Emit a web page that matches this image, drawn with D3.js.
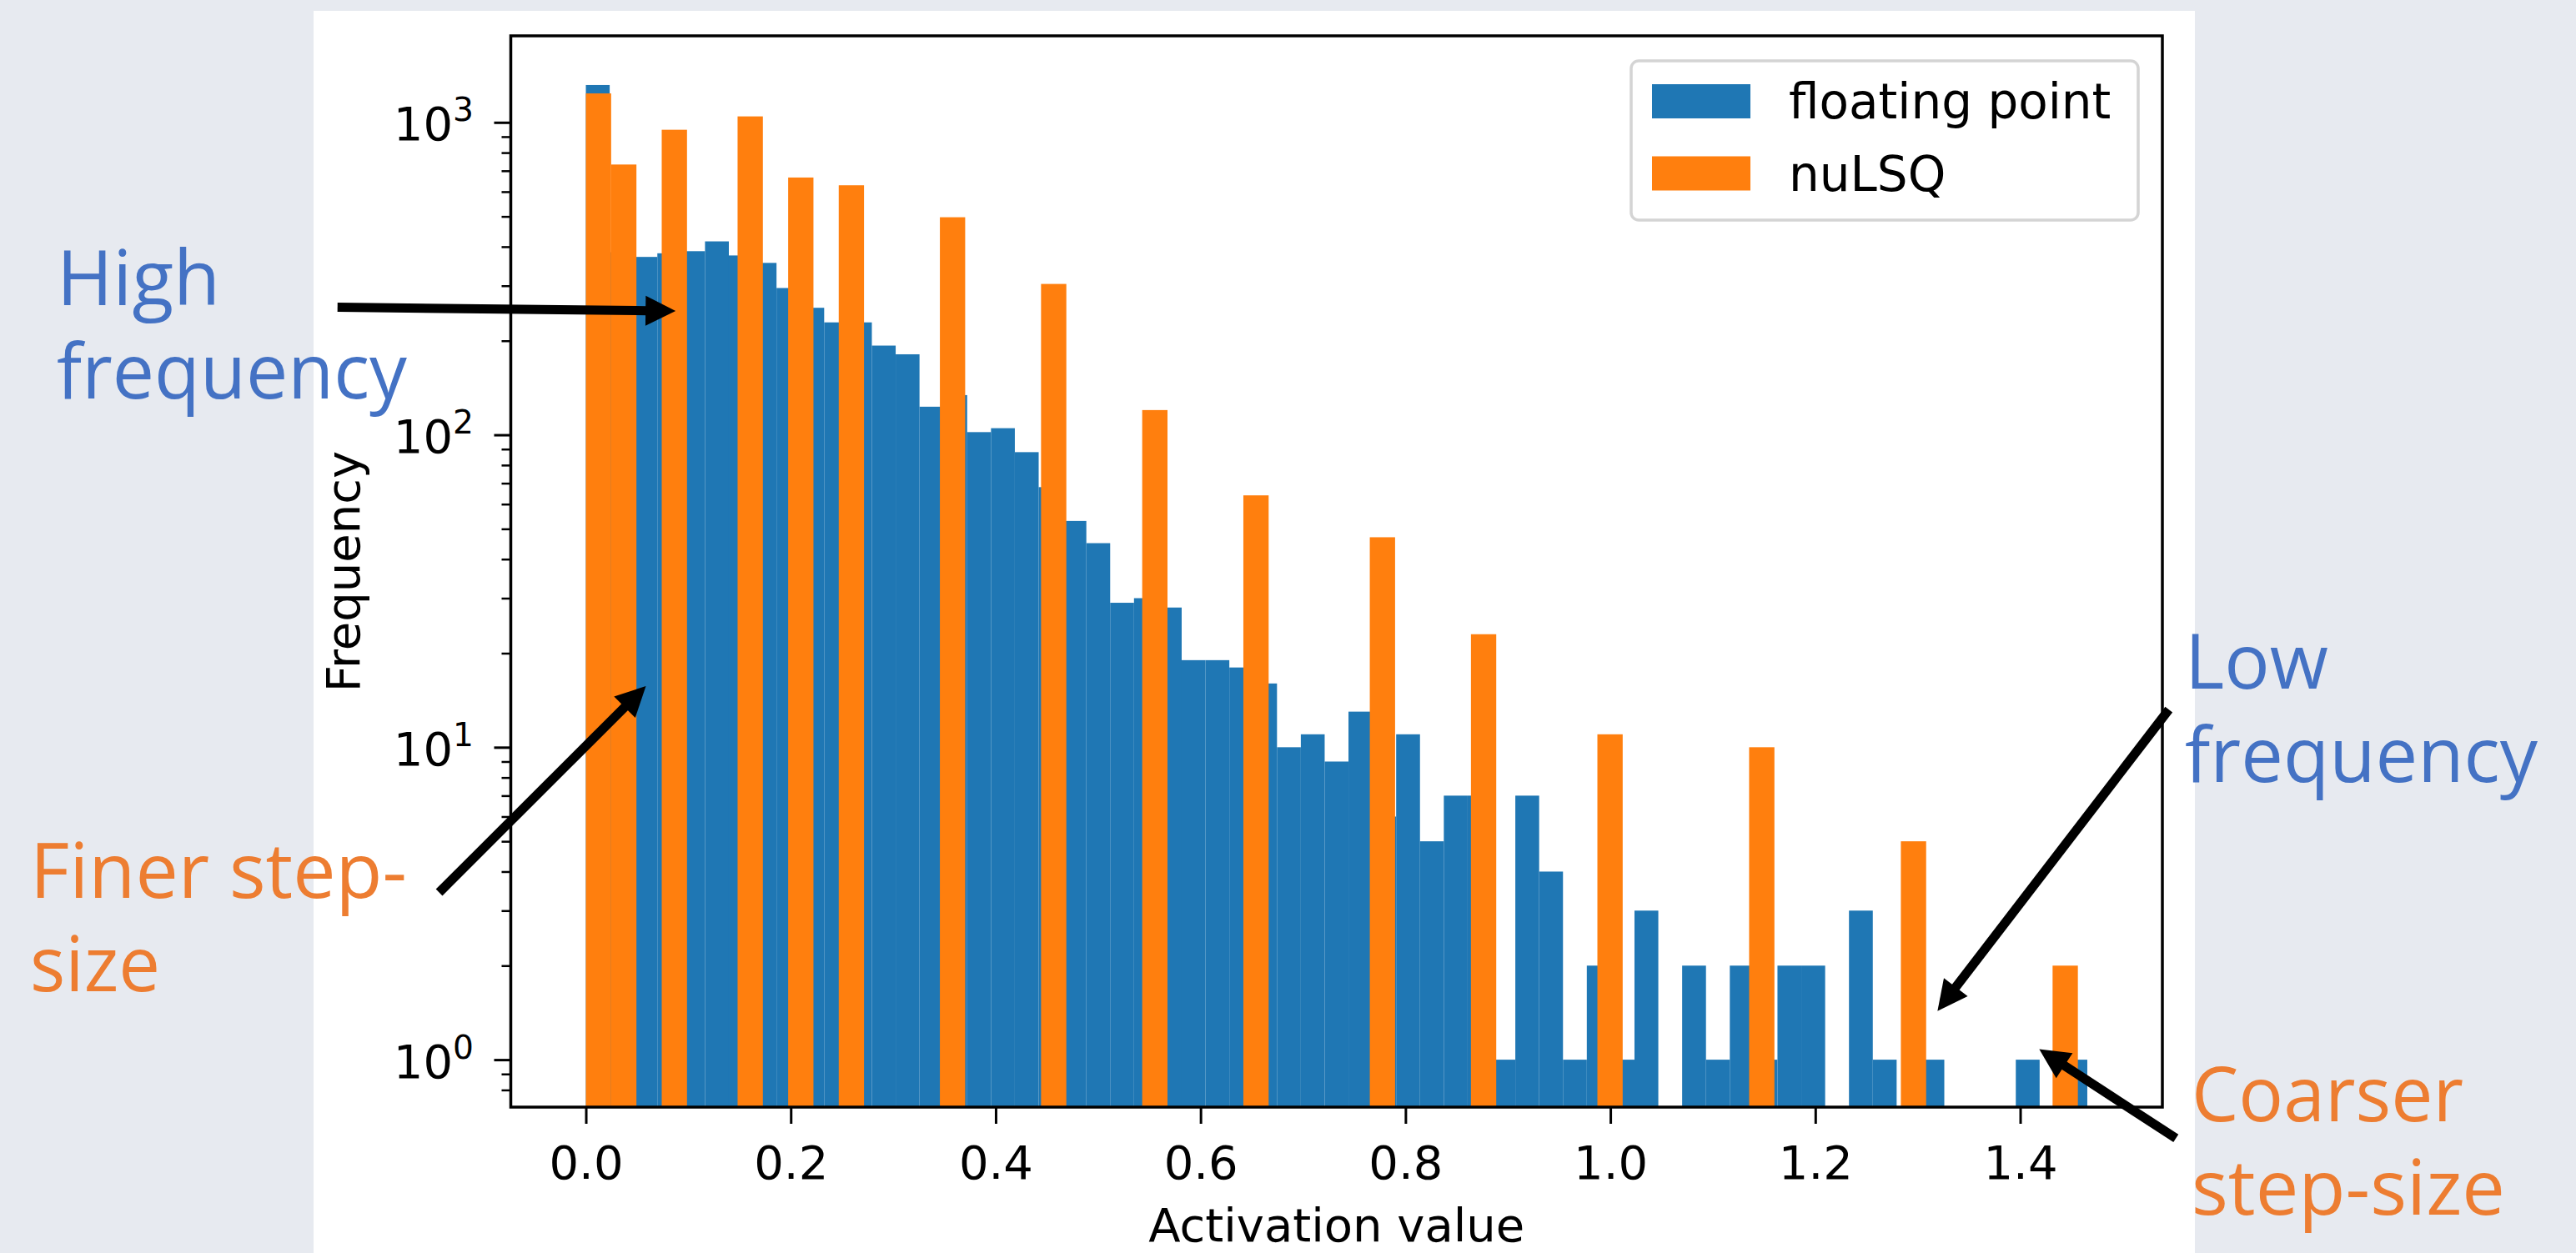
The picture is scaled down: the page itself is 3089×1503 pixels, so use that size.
<!DOCTYPE html>
<html>
<head>
<meta charset="utf-8">
<script src="https://cdn.jsdelivr.net/npm/d3@7"></script>
<style>
  html, body { margin: 0; padding: 0; background: #E7EAF0; }
  svg { display: block; }
</style>
</head>
<body>
<div id="chart"></div>
<script>
// histogram counts
const floatRange = [0, 1.4655];
const floatCounts = [1317, 384, 371, 381, 387, 416, 375, 355, 295, 255,
  229, 229, 193, 181, 123, 134, 102, 105, 88, 68,
  53, 45, 29, 30, 28, 19, 19, 18, 16, 10,
  11, 9, 13, 6, 11, 5, 7, 7, 1, 7,
  4, 1, 2, 1, 3, 0, 2, 1, 2, 1,
  2, 2, 0, 3, 1, 0, 1, 0, 0, 0,
  1, 0, 1];

const nulsqRange = [0, 1.4563];
const nulsqCounts = [1238, 733, 0, 947, 0, 0, 1045, 0, 666, 0,
  629, 0, 0, 0, 497, 0, 0, 0, 304, 0,
  0, 0, 120, 0, 0, 0, 64, 0, 0, 0,
  0, 47, 0, 0, 0, 23, 0, 0, 0, 0,
  11, 0, 0, 0, 0, 0, 10, 0, 0, 0,
  0, 0, 5, 0, 0, 0, 0, 0, 2];

const seriesNames = ["floating point", "nuLSQ"];
const xTicks = [0.0, 0.2, 0.4, 0.6, 0.8, 1.0, 1.2, 1.4];
const yTicks = [1, 10, 100, 1000];
const yLimits = [0.705, 1892];

// annotations: tail and tip in data units
const annotations = [
  {lines: ["High", "frequency"], color: "#4472C4", x: 68, y: 366, widths: [196, 420],
   tail: [-0.2424, 256], tip: [0.0876, 249]},
  {lines: ["Finer step-", "size"], color: "#ED7D31", x: 36, y: 1077, widths: [452, 156],
   tail: [-0.1432, 3.43], tip: [0.0586, 15.7]},
  {lines: ["Low", "frequency"], color: "#4472C4", x: 2620, y: 826, widths: [172, 423],
   tail: [1.5451, 13.2], tip: [1.3193, 1.432]},
  {lines: ["Coarser", "step-size"], color: "#ED7D31", x: 2628, y: 1345, widths: [326, 376],
   tail: [1.552, 0.56], tip: [1.4186, 1.08]}
];

const width = 3089, height = 1503;
const plot = {left: 612.5, right: 2593, top: 43, bottom: 1328};
const font = "'DejaVu Sans', sans-serif";
const fs = 56;

const toBins = (counts, range) => {
  const w = (range[1] - range[0]) / counts.length;
  return counts.map((c, i) => ({x0: range[0] + i * w, x1: range[0] + (i + 1) * w, count: c}))
    .filter(d => d.count > 0);
};

const svg = d3.select("#chart")
  .append("svg")
    .attr("width", width)
    .attr("height", height);

svg.append("rect")
  .attr("x", 0).attr("y", 0)
  .attr("width", width).attr("height", height)
  .attr("fill", "#E7EAF0");

svg.append("rect")
  .attr("x", 376).attr("y", 13)
  .attr("width", 2256).attr("height", height - 13)
  .attr("fill", "#ffffff");

const pad = (floatRange[1] - floatRange[0]) * 0.05;
const x = d3.scaleLinear()
  .domain([floatRange[0] - pad, floatRange[1] + pad])
  .range([plot.left, plot.right]);

const y = d3.scaleLog()
  .domain(yLimits)
  .range([plot.bottom, plot.top]);

// bars
const drawBars = (data, color, cls) => {
  svg.selectAll("." + cls)
    .data(data)
    .join("rect")
      .attr("class", cls)
      .attr("x", d => x(d.x0))
      .attr("y", d => y(d.count))
      .attr("width", d => x(d.x1) - x(d.x0))
      .attr("height", d => plot.bottom - y(d.count))
      .attr("fill", color);
};
drawBars(toBins(floatCounts, floatRange), "#1f77b4", "bar-float");
drawBars(toBins(nulsqCounts, nulsqRange), "#ff7f0e", "bar-nulsq");

// x axis
const xAxis = svg.append("g")
  .attr("transform", `translate(0,${plot.bottom})`)
  .call(d3.axisBottom(x).tickValues(xTicks).tickSize(20).tickPadding(26)
    .tickFormat(d3.format(".1f")));
xAxis.select(".domain").remove();
xAxis.selectAll(".tick line").attr("stroke", "#000").attr("stroke-width", 3);
xAxis.selectAll(".tick text")
  .style("font-family", font)
  .style("font-size", fs + "px")
  .attr("fill", "#000");

// y axis, major and minor ticks
const minor = [];
[0.1, 1, 10, 100, 1000].forEach(b => {
  for (let k = 2; k <= 9; k++) {
    const v = b * k;
    if (v >= yLimits[0] && v <= yLimits[1]) minor.push(v);
  }
});

const yMinor = svg.append("g")
  .attr("transform", `translate(${plot.left},0)`)
  .call(d3.axisLeft(y).tickValues(minor).tickSize(11).tickFormat(""));
yMinor.select(".domain").remove();
yMinor.selectAll(".tick line").attr("stroke", "#000").attr("stroke-width", 2.5);

const yMajor = svg.append("g")
  .attr("transform", `translate(${plot.left},0)`)
  .call(d3.axisLeft(y).tickValues(yTicks).tickSize(20).tickFormat(""));
yMajor.select(".domain").remove();
yMajor.selectAll(".tick line").attr("stroke", "#000").attr("stroke-width", 3);

const yLabels = svg.selectAll(".y-label")
  .data(yTicks)
  .join("text")
    .attr("class", "y-label")
    .attr("x", 568)
    .attr("y", d => y(d) + 21.5)
    .attr("text-anchor", "end")
    .style("font-family", font)
    .style("font-size", fs + "px")
    .attr("fill", "#000");
yLabels.append("tspan").text("10");
yLabels.append("tspan")
  .attr("dy", -23)
  .style("font-size", (fs * 0.7) + "px")
  .text(d => Math.round(Math.log10(d)));

// spines
svg.append("rect")
  .attr("x", plot.left).attr("y", plot.top)
  .attr("width", plot.right - plot.left)
  .attr("height", plot.bottom - plot.top)
  .attr("fill", "none")
  .attr("stroke", "#000")
  .attr("stroke-width", 3.5);

// axis labels
svg.append("text")
  .attr("x", (plot.left + plot.right) / 2)
  .attr("y", 1489)
  .attr("text-anchor", "middle")
  .style("font-family", font)
  .style("font-size", fs + "px")
  .text("Activation value");

svg.append("text")
  .attr("transform", `translate(431,${(plot.top + plot.bottom) / 2}) rotate(-90)`)
  .attr("text-anchor", "middle")
  .style("font-family", font)
  .style("font-size", fs + "px")
  .text("Frequency");

// legend
const legend = svg.append("g");
legend.append("rect")
  .attr("x", 1956).attr("y", 73)
  .attr("width", 608).attr("height", 191)
  .attr("rx", 9)
  .attr("fill", "#fff")
  .attr("stroke", "#d4d4d4")
  .attr("stroke-width", 3.5);
const legendRows = legend.selectAll(".legend-row")
  .data(seriesNames)
  .join("g")
    .attr("class", "legend-row")
    .attr("transform", (d, i) => `translate(1981,${101 + i * 86.5})`);
legendRows.append("rect")
  .attr("width", 118).attr("height", 41)
  .attr("fill", (d, i) => i === 0 ? "#1f77b4" : "#ff7f0e");
legendRows.append("text")
  .attr("x", 164).attr("y", 41)
  .style("font-family", font)
  .style("font-size", "58px")
  .text(d => d);

// annotation text, one text element per label
annotations.forEach(a => {
  const t = svg.append("text")
    .style("font-family", "'Open Sans', 'Noto Sans', sans-serif")
    .style("font-size", "92px")
    .attr("fill", a.color);
  a.lines.forEach((line, i) => {
    t.append("tspan")
      .attr("x", a.x)
      .attr("y", a.y + i * 112)
      .attr("textLength", a.widths[i])
      .attr("lengthAdjust", "spacingAndGlyphs")
      .text(line);
  });
});

// arrows
const headLen = 36, headHalf = 18;
annotations.forEach(a => {
  const x0 = x(a.tail[0]), y0 = y(a.tail[1]);
  const x1 = x(a.tip[0]), y1 = y(a.tip[1]);
  const len = Math.hypot(x1 - x0, y1 - y0);
  const ux = (x1 - x0) / len, uy = (y1 - y0) / len;
  const bx = x1 - ux * headLen, by = y1 - uy * headLen;
  svg.append("line")
    .attr("x1", x0).attr("y1", y0)
    .attr("x2", bx + ux * 2).attr("y2", by + uy * 2)
    .attr("stroke", "#000")
    .attr("stroke-width", 11);
  svg.append("path")
    .attr("d", `M${x1},${y1}L${bx - uy * headHalf},${by + ux * headHalf}L${bx + uy * headHalf},${by - ux * headHalf}Z`)
    .attr("fill", "#000");
});
</script>
</body>
</html>
